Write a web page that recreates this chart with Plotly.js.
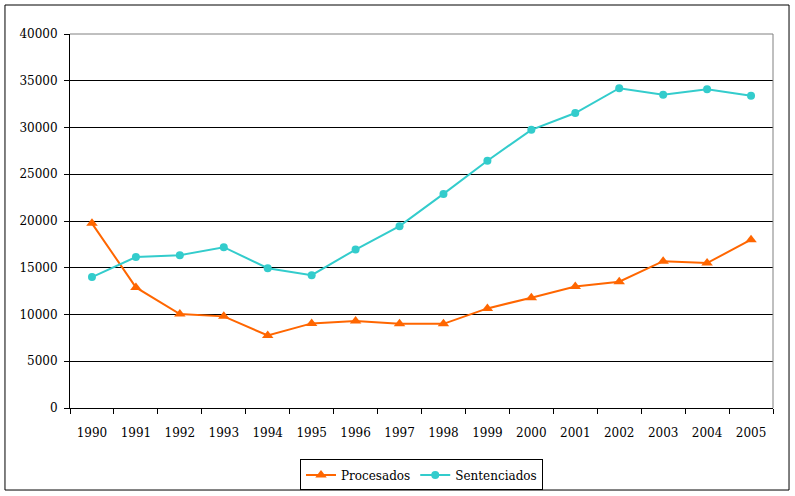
<!DOCTYPE html>
<html>
<head>
<meta charset="utf-8">
<script src="https://cdn.plot.ly/plotly-3.0.1.min.js"></script>
<style>html,body{margin:0;padding:0;background:#fff;}#chart{width:795px;height:496px;}</style>
</head>
<body>
<div id="chart"></div>
<script>
const years = ["1990","1991","1992","1993","1994","1995","1996","1997","1998","1999","2000","2001","2002","2003","2004","2005"];
const procesados = [19750, 12900, 10050, 9800, 7750, 9050, 9300, 9000, 9000, 10650, 11800, 13000, 13500, 15700, 15500, 18000];
const sentenciados = [14000, 16150, 16350, 17200, 14950, 14200, 16950, 19450, 22900, 26450, 29750, 31550, 34200, 33500, 34100, 33400];
const yTicks = [0, 5000, 10000, 15000, 20000, 25000, 30000, 35000, 40000];

const font = {family: "DejaVu Serif", size: 12, color: "#000"};

const traces = [
  {x: years, y: procesados, name: "Procesados", type: "scatter", mode: "lines+markers",
   line: {color: "#FF6600", width: 2}, marker: {symbol: "triangle-up", size: 10, color: "#FF6600"}},
  {x: years, y: sentenciados, name: "Sentenciados", type: "scatter", mode: "lines+markers",
   line: {color: "#33CCCC", width: 2}, marker: {symbol: "circle", size: 8, color: "#33CCCC"}}
];

const layout = {
  width: 795, height: 496,
  margin: {l: 70, r: 22, t: 34, b: 88, autoexpand: false},
  paper_bgcolor: "#fff", plot_bgcolor: "#fff",
  font: font,
  showlegend: true,
  legend: {orientation: "h", x: 0.5, xanchor: "center", y: -0.179, yanchor: "middle",
           bordercolor: "#000", borderwidth: 1, font: font, itemwidth: 30, traceorder: "normal"},
  xaxis: {type: "category", range: [-0.5, 15.5], showline: true, linecolor: "#000", linewidth: 1,
          ticks: "outside", tickson: "boundaries", ticklen: 5, tickcolor: "#000", tickwidth: 1,
          showgrid: false, zeroline: false, ticklabelstandoff: 14, tickfont: font, fixedrange: true,
          automargin: false},
  yaxis: {range: [0, 40000], tickvals: yTicks, ticktext: yTicks.map(String), showline: true,
          linecolor: "#000", linewidth: 1, ticks: "outside", ticklen: 5, tickcolor: "#000",
          showgrid: true, gridcolor: "#000", gridwidth: 1, zeroline: false, tickfont: font,
          ticklabelstandoff: 4, fixedrange: true, automargin: false},
  shapes: [
    {type: "line", xref: "paper", yref: "paper", x0: 0, x1: 1, y0: 1, y1: 1, line: {color: "#808080", width: 1}},
    {type: "line", xref: "paper", yref: "paper", x0: 1, x1: 1, y0: 0, y1: 1, line: {color: "#808080", width: 1}},
    {type: "rect", xref: "paper", yref: "paper", x0: -0.0925, x1: 1.0228, y0: -0.2193, y1: 1.0775,
     line: {color: "#000", width: 1}, fillcolor: "rgba(0,0,0,0)"}
  ]
};

Plotly.newPlot("chart", traces, layout, {displayModeBar: false, staticPlot: true});
</script>
</body>
</html>
